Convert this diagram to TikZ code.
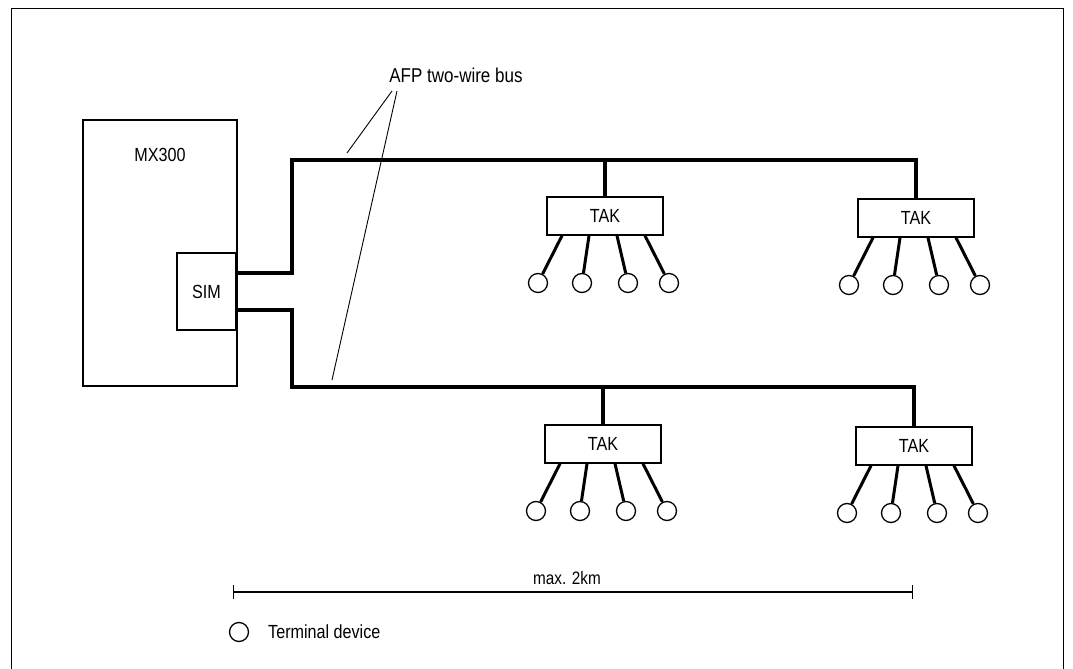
\documentclass[tikz,border=0pt]{standalone}
\usepackage{fontspec}
\setmainfont{Liberation Sans}[FakeStretch=0.85]
\usetikzlibrary{positioning,arrows.meta}

\tikzset{
  box/.style={draw, line width=0.7pt, inner sep=0pt},
  bus/.style={line width=1.9pt},
  leg/.style={line width=1.5pt},
  term/.style={draw, circle, line width=0.65pt, minimum size=9.5pt, inner sep=0pt},
  lbl/.style={font=\fontsize{9.5}{11}\selectfont}
}

\begin{document}
\begin{tikzpicture}[x=0.5pt, y=-0.5pt]
  \useasboundingbox (0,0) rectangle (1073,669);
  % frame
  \draw[line width=0.5pt] (11,669) -- (11,8) -- (1063,8) -- (1063,669);

  % exchange and interface module
  \node[box, minimum width=77pt, minimum height=133pt] (mx) at (160,253) {};
  \node[lbl] (mxlabel) at (160,155) {MX300};
  \node[box, lbl, fill=white, minimum width=29.5pt, minimum height=38.5pt] (sim) at (206.5,291.5) {SIM};

  % connection units
  \node[box, lbl, minimum width=58pt, minimum height=19pt] (tak1) at (605,216) {TAK};
  \node[box, lbl, minimum width=58pt, minimum height=19pt] (tak2) at (916,218) {TAK};
  \node[box, lbl, minimum width=58pt, minimum height=19pt] (tak3) at (603,444) {TAK};
  \node[box, lbl, minimum width=58pt, minimum height=19pt] (tak4) at (914,446) {TAK};

  % two-wire buses
  \coordinate (upper) at (292,160);
  \coordinate (lower) at (292,387);
  \draw[bus] (sim.east |- 0,273) -| (upper) -| (tak2.north);
  \draw[bus] (tak1.north) -- (tak1.north |- upper);
  \draw[bus] (sim.east |- 0,310) -| (lower) -| (tak4.north);
  \draw[bus] (tak3.north) -- (tak3.north |- lower);

  % terminal devices
  \foreach \t in {tak1,tak2,tak3,tak4}
    \foreach \dx/\lx [count=\i] in {-67/-21.5pt,-23/-8pt,23/6pt,64/20pt} {
      \node[term] (\t-\i) at ([shift={(\dx,67)}]\t.center) {};
      \draw[leg] ([xshift=\lx]\t.south) -- (\t-\i);
    }

  % bus label
  \node[font=\fontsize{10}{12}\selectfont] (afp) at (456,75) {AFP two-wire bus};
  \coordinate (afpA) at (392,91);
  \coordinate (afpB) at (397,91);
  \coordinate (upperhint) at (347,153);
  \coordinate (lowerhint) at (332,380);
  \draw[line width=0.45pt] (afpA) -- (upperhint);
  \draw[line width=0.45pt] (afpB) -- (lowerhint);

  % distance
  \coordinate (sl) at (233,592);
  \coordinate (sr) at (913,592);
  \draw[line width=0.6pt, {Bar[width=7pt]}-{Bar[width=7pt]}] (sl) -- (sr);
  \node[font=\fontsize{9}{10}\selectfont] (dist) at (567,578) {max. 2km};

  % legend
  \node[term] (legc) at (239,632) {};
  \node[lbl, right=6pt of legc] (legtext) {Terminal device};
\end{tikzpicture}
\end{document}
